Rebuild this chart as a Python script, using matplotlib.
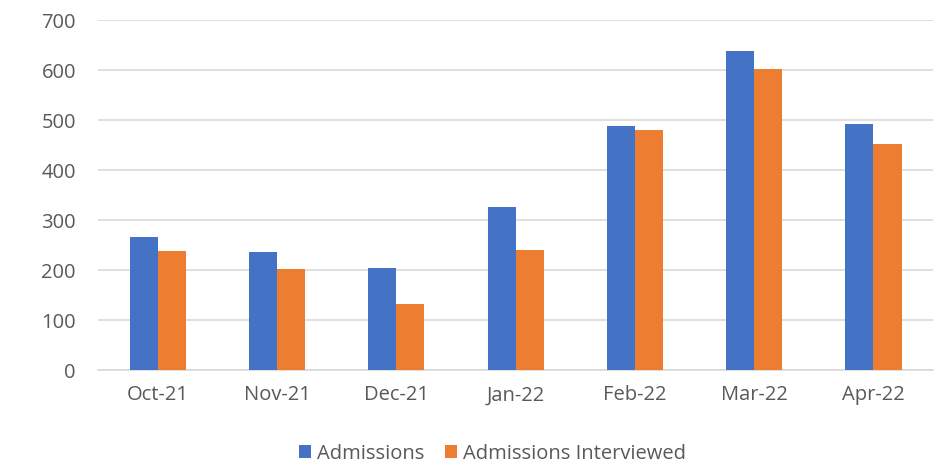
import matplotlib
matplotlib.use("Agg")
import matplotlib.pyplot as plt
import numpy as np

months = ["Oct-21", "Nov-21", "Dec-21", "Jan-22", "Feb-22", "Mar-22", "Apr-22"]
admissions = [267, 236, 205, 327, 488, 639, 493]
interviewed = [239, 203, 133, 240, 481, 603, 453]
y_ticks = [0, 100, 200, 300, 400, 500, 600, 700]

blue = "#4472C4"
orange = "#ED7D31"
text_grey = "#595959"
grid_grey = "#D9D9D9"

plt.rcParams["font.family"] = ["Open Sans", "DejaVu Sans"]

fig = plt.figure(figsize=(9.35, 4.68), dpi=100)
ax = fig.add_axes([0.105, 0.209, 0.893, 0.748])

x = np.arange(len(months))
w = 0.235
ax.bar(x - w / 2, admissions, width=w, color=blue, label="Admissions", zorder=3)
ax.bar(x + w / 2, interviewed, width=w, color=orange, label="Admissions Interviewed", zorder=3)

ax.set_xlim(-0.5, len(months) - 0.5)
ax.set_ylim(0, 700)
ax.set_yticks(y_ticks)
ax.set_xticks(x)
ax.set_xticklabels(months)
ax.tick_params(axis="both", length=0, labelsize=14.5, colors=text_grey)
ax.tick_params(axis="y", pad=16)
ax.tick_params(axis="x", pad=11)
ax.yaxis.grid(True, color=grid_grey, linewidth=1.2, zorder=0)
for s in ["top", "right", "left"]:
    ax.spines[s].set_visible(False)
ax.spines["bottom"].set_color(grid_grey)
ax.spines["bottom"].set_linewidth(1.2)

fig.legend(loc="center", bbox_to_anchor=(0.527, 0.03), ncol=2, frameon=False,
           fontsize=14.5, labelcolor=text_grey, handlelength=0.6, handleheight=0.6,
           handletextpad=0.3, columnspacing=1.0, borderpad=0.2)

fig.savefig("out.png", dpi=100)
